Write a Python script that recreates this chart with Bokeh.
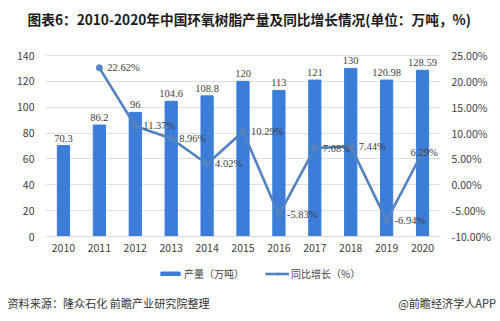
from bokeh.plotting import figure
from bokeh.layouts import column
from bokeh.models import (Range1d, LinearAxis, FixedTicker, PrintfTickFormatter,
                          Legend, LegendItem, Title, ColumnDataSource, LabelSet)
from bokeh.embed import file_html
from bokeh.resources import INLINE

years = ["2010", "2011", "2012", "2013", "2014", "2015", "2016", "2017", "2018", "2019", "2020"]
output = [70.3, 86.2, 96, 104.6, 108.8, 120, 113, 121, 130, 120.98, 128.59]
output_labels = ["70.3", "86.2", "96", "104.6", "108.8", "120", "113", "121", "130", "120.98", "128.59"]
growth_years = years[1:]
growth = [22.62, 11.37, 8.96, 4.02, 10.29, -5.83, 7.08, 7.44, -6.94, 6.29]
growth_labels = ["22.62%", "11.37%", "8.96%", "4.02%", "10.29%", "-5.83%", "7.08%", "7.44%", "-6.94%", "6.29%"]
left_ticks = [0, 20, 40, 60, 80, 100, 120, 140]
right_ticks = [-10, -5, 0, 5, 10, 15, 20, 25]
source_text = "资料来源：隆众石化 前瞻产业研究院整理"
brand_text = "@前瞻经济学人APP"

FONT = "Noto Sans CJK SC"
BAR = "#3b7dd8"
LINE = "#5283c0"
TXT = "#404040"

# geometry (pixels)
FRAME_TOP, FRAME_BOTTOM, GRID_TOP, CHART_H = 33, 236, 55, 262
frame_h = FRAME_BOTTOM - FRAME_TOP
grid_h = FRAME_BOTTOM - GRID_TOP
l_lo, l_hi = left_ticks[0], left_ticks[-1]
r_lo, r_hi = right_ticks[0], right_ticks[-1]
l_top = l_lo + (l_hi - l_lo) * frame_h / grid_h
r_top = r_lo + (r_hi - r_lo) * frame_h / grid_h

p = figure(width=500, height=CHART_H, frame_width=395, frame_height=frame_h,
           x_range=years, y_range=Range1d(l_lo, l_top),
           output_backend="svg", toolbar_location=None,
           min_border_left=45, min_border_right=60, min_border_top=FRAME_TOP,
           min_border_bottom=CHART_H - FRAME_BOTTOM)
p.outline_line_color = None
p.background_fill_color = "white"
p.border_fill_color = "white"
p.extra_y_ranges = {"pct": Range1d(r_lo, r_top)}

p.title.text = "图表6：2010-2020年中国环氧树脂产量及同比增长情况(单位：万吨，%)"
p.title.text_font = FONT
p.title.text_font_size = "13.7px"
p.title.text_font_style = "bold"
p.title.text_color = "#1a1a1a"
p.title.align = "left"
p.title.offset = -18
p.title.standoff = 10

bar_src = ColumnDataSource(dict(x=years, y=output, lab=output_labels))
p.vbar(x="x", top="y", width=0.34, source=bar_src, color=BAR)

label_dx = [8, 8, 8, 8, 8, 8, 8, 8, 8, -12]
line_src = ColumnDataSource(dict(x=growth_years, y=growth, lab=growth_labels, dx=label_dx))
p.line(x="x", y="y", source=line_src, y_range_name="pct", line_color=LINE, line_width=2.6)
p.scatter(x="x", y="y", source=line_src, y_range_name="pct", size=6, color=LINE)

p.add_layout(LabelSet(x="x", y="y", text="lab", source=bar_src, y_offset=4,
                      text_align="center", text_baseline="bottom", text_font=FONT,
                      text_font_size="10.5px", text_color=TXT))
p.add_layout(LabelSet(x="x", y="y", text="lab", source=line_src, y_range_name="pct",
                      x_offset="dx", text_align="left", text_baseline="middle", text_font=FONT,
                      text_font_size="10.5px", text_color=TXT))

p.yaxis.ticker = FixedTicker(ticks=left_ticks)
p.yaxis.axis_line_color = None
p.yaxis.major_tick_line_color = None
p.yaxis.minor_tick_line_color = None
p.yaxis.major_label_text_font = FONT
p.yaxis.major_label_text_font_size = "10.5px"
p.yaxis.major_label_text_color = TXT

ra = LinearAxis(y_range_name="pct", ticker=FixedTicker(ticks=right_ticks),
                formatter=PrintfTickFormatter(format="%.2f%%"))
ra.axis_line_color = None
ra.major_tick_line_color = None
ra.minor_tick_line_color = None
ra.major_label_text_font = FONT
ra.major_label_text_font_size = "10.5px"
ra.major_label_text_color = TXT
p.add_layout(ra, "right")

p.xaxis.axis_line_color = "#d9d9d9"
p.xaxis.major_tick_line_color = None
p.xaxis.major_tick_out = 0
p.xaxis.major_label_text_font = FONT
p.xaxis.major_label_text_font_size = "10.5px"
p.xaxis.major_label_text_color = TXT
p.xaxis.major_label_standoff = 7

p.xgrid.grid_line_color = None
p.ygrid.ticker = FixedTicker(ticks=left_ticks)
p.ygrid.grid_line_color = "#e0e0e0"

# legend + footer strip (legend swatches come from hidden renderers of the same series)
FOOT_H = 321 - CHART_H
FOOT_BORDER = 34
f = figure(width=500, height=FOOT_H, x_range=years, y_range=Range1d(l_lo, l_hi),
           output_backend="svg", toolbar_location=None,
           x_axis_type=None, y_axis_type=None, min_border=0,
           min_border_left=45, min_border_right=60, min_border_bottom=FOOT_BORDER)
f.outline_line_color = None
f.xgrid.visible = False
f.ygrid.visible = False
f.border_fill_color = "white"
lb = f.vbar(x="x", top="y", width=0.34, source=bar_src, color=BAR, visible=False)
ll = f.line(x="x", y="y", source=line_src, line_color=LINE, line_width=2.6, visible=False)
lp = f.scatter(x="x", y="y", source=line_src, size=6, color=LINE, visible=False)

legend = Legend(items=[LegendItem(label="产量（万吨）", renderers=[lb]),
                       LegendItem(label="同比增长（%）", renderers=[ll, lp])],
                orientation="horizontal", location=(113, 6),
                label_text_font=FONT, label_text_font_size="10px", label_text_color=TXT,
                glyph_width=24, glyph_height=5, label_height=16, spacing=21, label_standoff=2,
                padding=0, margin=0, border_line_color=None, background_fill_alpha=0,
                inactive_fill_alpha=0)
f.add_layout(legend)

footer = Title(text=source_text + "\u3000" * 17 + brand_text,
               text_font=FONT, text_font_size="11.1px", text_font_style="normal",
               text_color="#333333", align="left", offset=-38, standoff=15,
               vertical_align="top")
f.add_layout(footer, "below")

layout = column(p, f, spacing=0)
open("out.html", "w").write(file_html(layout, INLINE))
